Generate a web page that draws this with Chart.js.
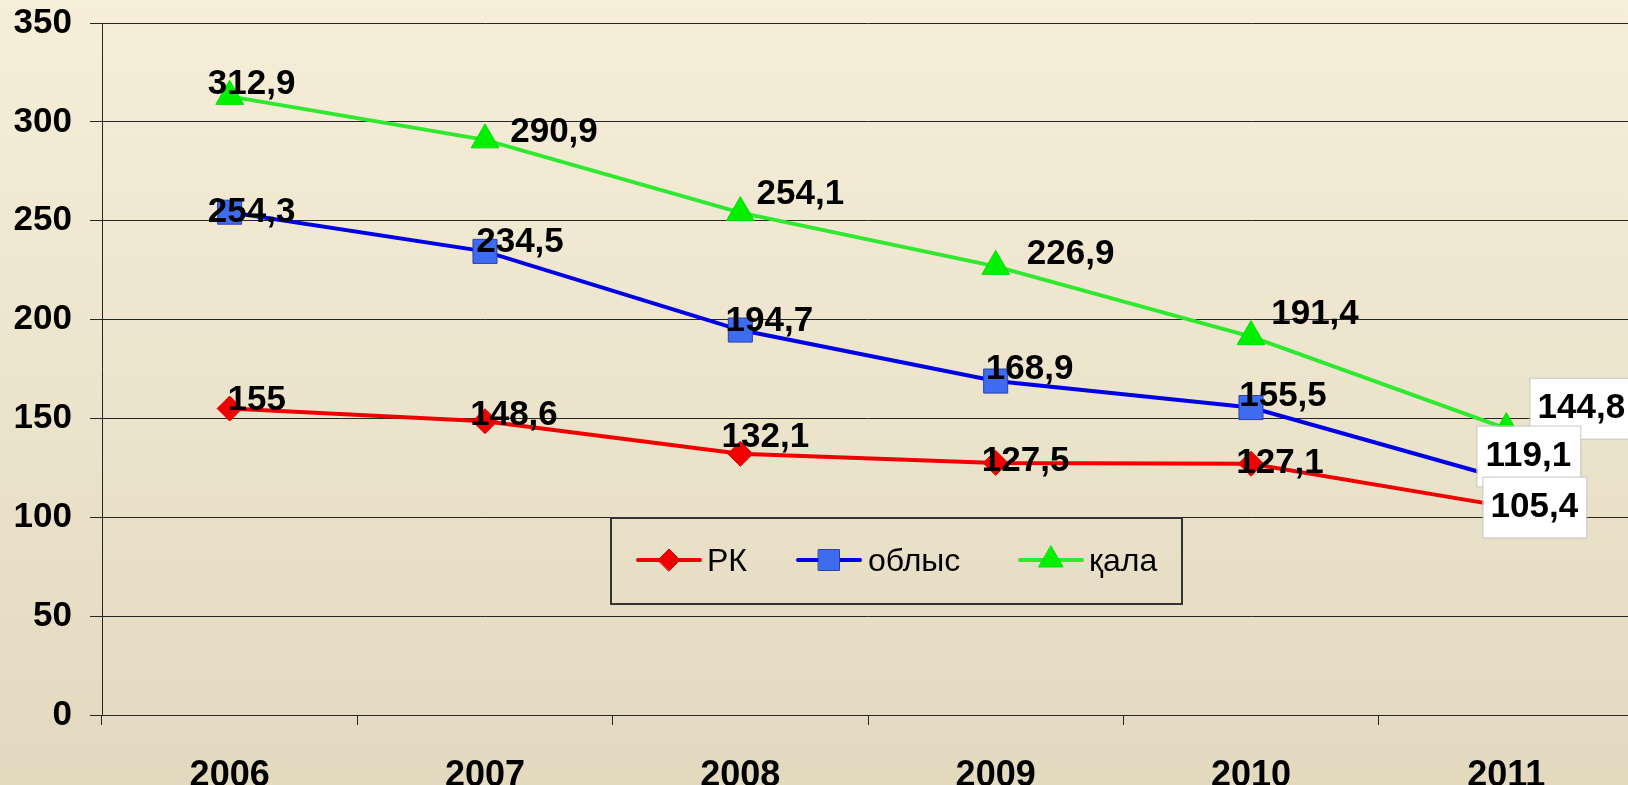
<!DOCTYPE html>
<html>
<head>
<meta charset="utf-8">
<script src="https://cdn.jsdelivr.net/npm/chart.js@4/dist/chart.umd.min.js"></script>
<style>
html, body { margin: 0; padding: 0; overflow: hidden; width: 1628px; height: 785px; }
body { background: linear-gradient(#F7EED9, #E2D9BF); }
#chart { position: absolute; left: 0; top: 0; }
</style>
</head>
<body>
<canvas id="chart" width="1652" height="785"></canvas>
<script>
const years = ['2006', '2007', '2008', '2009', '2010', '2011'];
const rk = [155, 148.6, 132.1, 127.5, 127.1, 105.4];
const oblys = [254.3, 234.5, 194.7, 168.9, 155.5, 119.1];
const kala = [312.9, 290.9, 254.1, 226.9, 191.4, 144.8];
const yTicks = [0, 50, 100, 150, 200, 250, 300, 350];

// where each value label sits, relative to its point (text centre)
const rkLabelOffsets = [[27, -8], [29, -6], [25, -16], [30, -2], [29, 0], [28, 1]];
const oblysLabelOffsets = [[22, 0], [35, -9], [29, -9], [34, -12], [32, -11], [22, -23]];
const kalaLabelOffsets = [[22, -12], [69, -8], [60, -18], [75, -12], [64, -22], [75, -20]];

const gridColor = '#262626';
const valueFont = 'bold 35px "Liberation Sans", Arial, sans-serif';

function fmt(v) {
    return String(v).replace('.', ',');
}

function marker(ctx, style, x, y, r, fill, stroke) {
    ctx.save();
    ctx.fillStyle = fill;
    ctx.strokeStyle = stroke;
    ctx.lineWidth = 1;
    ctx.beginPath();
    if (style === 'rectRot') {
        ctx.moveTo(x - r, y);
        ctx.lineTo(x, y - r);
        ctx.lineTo(x + r, y);
        ctx.lineTo(x, y + r);
    } else if (style === 'rect') {
        ctx.rect(x - r, y - r, 2 * r, 2 * r);
    } else {
        ctx.moveTo(x, y - r);
        ctx.lineTo(x + r * 0.866, y + r * 0.5);
        ctx.lineTo(x - r * 0.866, y + r * 0.5);
    }
    ctx.closePath();
    ctx.fill();
    ctx.stroke();
    ctx.restore();
}

const valueLabels = {
    id: 'valueLabels',
    afterDatasetsDraw(chart) {
        const ctx = chart.ctx;
        ctx.save();
        ctx.font = valueFont;
        ctx.textAlign = 'center';
        ctx.textBaseline = 'middle';
        for (let d = chart.data.datasets.length - 1; d >= 0; d--) {
            const ds = chart.data.datasets[d];
            const meta = chart.getDatasetMeta(d);
            meta.data.forEach((pt, i) => {
                const off = ds.labelOffsets[i];
                const x = pt.x + off[0];
                const y = pt.y + off[1];
                if (i === ds.data.length - 1) {
                    ctx.fillStyle = '#FFFFFF';
                    ctx.fillRect(x - 51, y - 30, 103, 60);
                    ctx.strokeStyle = '#C8C8C8';
                    ctx.lineWidth = 1;
                    ctx.strokeRect(x - 51.5, y - 30.5, 104, 61);
                }
                ctx.fillStyle = '#000000';
                ctx.fillText(fmt(ds.data[i]), x, y);
            });
        }
        ctx.restore();
    }
};

const boxLegend = {
    id: 'boxLegend',
    afterDraw(chart) {
        const ctx = chart.ctx;
        ctx.save();
        ctx.strokeStyle = '#333333';
        ctx.lineWidth = 2;
        ctx.strokeRect(611, 518, 571, 86);
        const items = [
            { lineX: 638, textX: 707, r: 11 },
            { lineX: 798, textX: 868, r: 10.5 },
            { lineX: 1020, textX: 1089, r: 14 }
        ];
        const y = 560;
        ctx.font = '32px "Liberation Sans", Arial, sans-serif';
        ctx.textBaseline = 'middle';
        ctx.textAlign = 'left';
        chart.data.datasets.forEach((ds, i) => {
            const it = items[i];
            ctx.strokeStyle = ds.borderColor;
            ctx.lineWidth = 4;
            ctx.lineCap = 'round';
            ctx.beginPath();
            ctx.moveTo(it.lineX, y);
            ctx.lineTo(it.lineX + 62, y);
            ctx.stroke();
            marker(ctx, ds.pointStyle, it.lineX + 31, y, it.r, ds.pointBackgroundColor, ds.pointBorderColor);
            ctx.fillStyle = '#000000';
            ctx.fillText(ds.label, it.textX, y + 2);
        });
        ctx.restore();
    }
};

const ctx = document.getElementById('chart').getContext('2d');

const chart = new Chart(ctx, {
    type: 'line',
    data: {
        labels: years,
        datasets: [{
            label: 'РК',
            data: rk,
            borderColor: '#F00000',
            borderWidth: 4,
            pointStyle: 'rectRot',
            pointRadius: 12.5,
            pointBackgroundColor: '#F00000',
            pointBorderColor: '#E00000',
            pointBorderWidth: 1,
            labelOffsets: rkLabelOffsets
        }, {
            label: 'облыс',
            data: oblys,
            borderColor: '#0000E6',
            borderWidth: 4,
            pointStyle: 'rect',
            pointRadius: 17,
            pointBackgroundColor: '#3D6CF0',
            pointBorderColor: '#2A3FA8',
            pointBorderWidth: 1,
            labelOffsets: oblysLabelOffsets
        }, {
            label: 'қала',
            data: kala,
            borderColor: '#30E830',
            borderWidth: 4,
            pointStyle: 'triangle',
            pointRadius: 16,
            pointBackgroundColor: '#00F000',
            pointBorderColor: '#00E000',
            pointBorderWidth: 1,
            labelOffsets: kalaLabelOffsets
        }]
    },
    options: {
        responsive: false,
        animation: false,
        layout: {
            padding: { top: 23, left: 0, right: 6, bottom: 0 }
        },
        plugins: {
            legend: { display: false },
            tooltip: { enabled: false }
        },
        scales: {
            x: {
                offset: true,
                grid: {
                    offset: true,
                    drawOnChartArea: false,
                    drawTicks: true,
                    tickLength: 10,
                    color: gridColor
                },
                border: { display: true, color: gridColor, width: 1 },
                ticks: {
                    color: '#000000',
                    padding: 29,
                    maxRotation: 0,
                    font: { family: '"Liberation Sans", Arial, sans-serif', size: 36, weight: 'bold' }
                },
                afterFit(s) {
                    s.height = 70;
                    s.paddingLeft = 0;
                    s.paddingRight = 0;
                }
            },
            y: {
                min: 0,
                max: 350,
                afterBuildTicks(s) { s.ticks = yTicks.map(v => ({ value: v })); },
                grid: {
                    color: gridColor,
                    lineWidth: 1,
                    drawTicks: true,
                    tickLength: 12
                },
                border: { display: true, color: gridColor, width: 1 },
                ticks: {
                    color: '#000000',
                    padding: 18,
                    font: { family: '"Liberation Sans", Arial, sans-serif', size: 35, weight: 'bold' }
                },
                afterFit(s) {
                    s.width = 102;
                    s.paddingTop = 0;
                    s.paddingBottom = 0;
                }
            }
        }
    },
    plugins: [valueLabels, boxLegend]
});
</script>
</body>
</html>
